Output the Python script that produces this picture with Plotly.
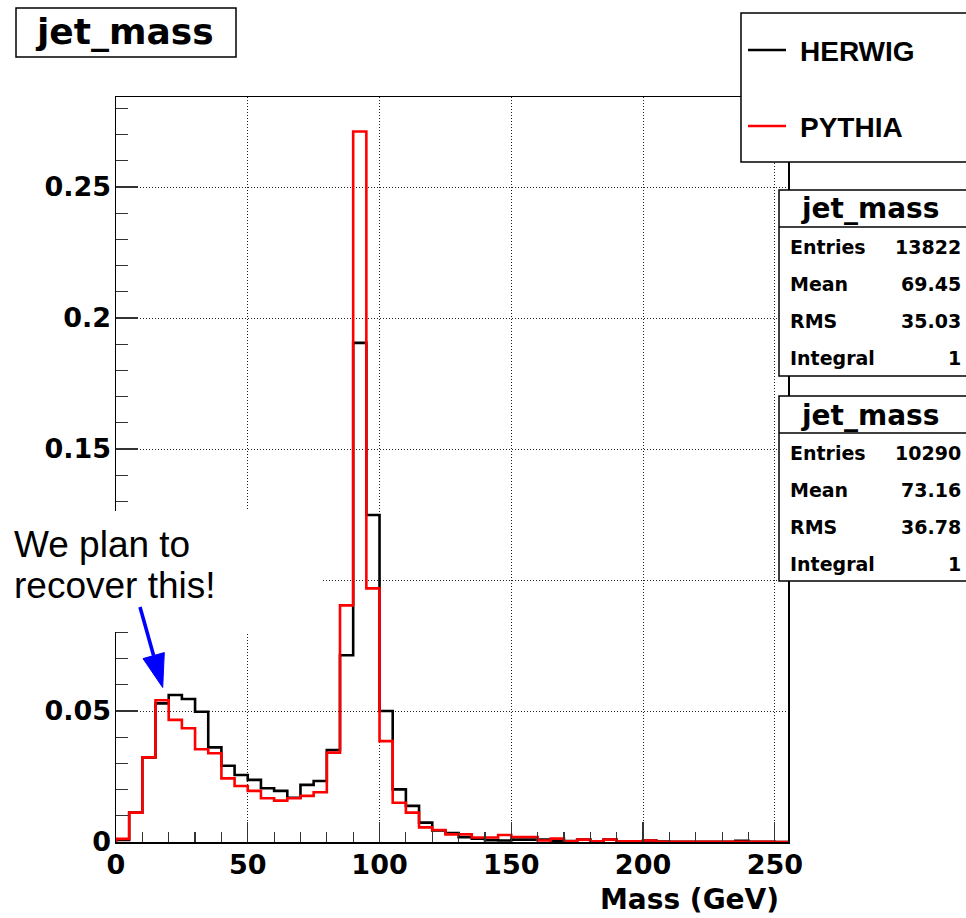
import plotly.graph_objects as go

# ---------------- data ----------------
bin_edges = list(range(0, 260, 5))          # 0 .. 255 GeV, 5 GeV bins
herwig = [0.0008, 0.0112, 0.0323, 0.0529, 0.0561, 0.0546, 0.0497, 0.0361, 0.0291, 0.0256,
          0.0237, 0.0205, 0.0195, 0.0169, 0.0218, 0.0233, 0.0351, 0.0713, 0.1905, 0.1248,
          0.0500, 0.0201, 0.0138, 0.0074, 0.0044, 0.0034, 0.0018, 0.0013, 0.0007, 0.0006,
          0.0009, 0.0009, 0.0009, 0.0005, 0.0004, 0.0009, 0.0003, 0.0009, 0.0003, 0.0003,
          0.0006, 0.0002, 0.0001, 0.0001, 0.0001, 0.0001, 0.0001, 0.0005, 0.0001, 0.0001,
          0.0000]
pythia = [0.0012, 0.0112, 0.0323, 0.0541, 0.0466, 0.0434, 0.0354, 0.0339, 0.0243, 0.0214,
          0.0195, 0.0167, 0.0158, 0.0167, 0.0176, 0.0190, 0.0341, 0.0903, 0.2712, 0.0968,
          0.0385, 0.0150, 0.0112, 0.0056, 0.0046, 0.0029, 0.0029, 0.0017, 0.0017, 0.0027,
          0.0019, 0.0019, 0.0006, 0.0013, 0.0003, 0.0009, 0.0003, 0.0009, 0.0003, 0.0003,
          0.0006, 0.0001, 0.0001, 0.0001, 0.0001, 0.0001, 0.0001, 0.0001, 0.0001, 0.0001,
          0.0000]
x_tick_vals = [0, 50, 100, 150, 200, 250]
y_tick_vals = [0, 0.05, 0.1, 0.15, 0.2, 0.25]
y_tick_text = ["0", "0.05", "", "0.15", "0.2", "0.25"]   # 0.1 label is hidden under the note box
series_names = ["HERWIG", "PYTHIA"]
stat_labels = ["Entries", "Mean", "RMS", "Integral"]
stats_box1 = ["13822", "69.45", "35.03", "1"]
stats_box2 = ["10290", "73.16", "36.78", "1"]
hist_name = "jet_mass"
x_title = "Mass (GeV)"
note_lines = ["We plan to", "recover this!"]

# ---------------- layout helpers (screen pixels -> paper) ----------------
W, H = 966, 918
L, R, T, B = 116, 788, 97, 842   # plot frame in pixels
ROOTFONT = "DejaVu Sans, Verdana, sans-serif"
ARIAL = "Liberation Sans, Arial, Helvetica, sans-serif"


def px(x):
    return (x - L) / (R - L)


def py(y):
    return (B - y) / (B - T)


def step_xy(edges, vals):
    xs = [edges[0]] + edges[:-1] + [edges[-1], edges[-1]]
    ys = [0] + vals + [vals[-1], 0]
    return xs, ys


fig = go.Figure()
for name, vals, col in [(series_names[0], herwig, "black"), (series_names[1], pythia, "#ff0000")]:
    xs, ys = step_xy(bin_edges, vals)
    fig.add_trace(go.Scatter(x=xs, y=ys, mode="lines", name=name,
                             line=dict(color=col, width=2.6, shape="hv"),
                             showlegend=False, hoverinfo="skip"))

shapes = []
annots = []


def rect(x0, y0, x1, y1, lw=1.5, fill="white", line="black"):
    shapes.append(dict(type="rect", xref="paper", yref="paper",
                       x0=px(x0), x1=px(x1), y0=py(y0), y1=py(y1),
                       line=dict(color=line, width=lw), fillcolor=fill, layer="above"))


def hline(x0, x1, y, color="black", w=1.5):
    shapes.append(dict(type="line", xref="paper", yref="paper",
                       x0=px(x0), x1=px(x1), y0=py(y), y1=py(y),
                       line=dict(color=color, width=w), layer="above"))


def text(s, x, y, size, xanchor="center", bold=True, color="black", family=ROOTFONT):
    annots.append(dict(text=s, xref="paper", yref="paper", x=px(x), y=py(y),
                       xanchor=xanchor, yanchor="middle", showarrow=False,
                       font=dict(family=family, size=size, color=color,
                                 weight="bold" if bold else "normal")))


# title box
rect(16, 8, 236, 57)
text(hist_name, 124, 31, 36)

# white box behind the note (covers axis part)
rect(-20, 511, 322, 632, lw=0)
text(note_lines[0], 12, 544, 37, xanchor="left", bold=False, family=ARIAL)
text(note_lines[1], 12, 585, 37, xanchor="left", bold=False, family=ARIAL)

# blue arrow
tail = (140, 607)
tip = (162.7, 687.5)
base_c = (153.6, 655.6)
shapes.append(dict(type="line", xref="paper", yref="paper",
                   x0=px(tail[0]), y0=py(tail[1]), x1=px(base_c[0]), y1=py(base_c[1]),
                   line=dict(color="#0000ff", width=3.6), layer="above"))
tri = [(143.0, 658.6), (164.3, 652.6), tip]
path = "M {} {} L {} {} L {} {} Z".format(px(tri[0][0]), py(tri[0][1]), px(tri[1][0]), py(tri[1][1]),
                                          px(tri[2][0]), py(tri[2][1]))
shapes.append(dict(type="path", xref="paper", yref="paper", path=path,
                   fillcolor="#0000ff", line=dict(color="#0000ff", width=1), layer="above"))

# legend box
rect(741, 13, 990, 162)
hline(748, 786, 50, "black", 2.6)
hline(748, 786, 126, "#ff0000", 2.6)
text(series_names[0], 798, 51, 28, xanchor="left", family=ARIAL)
text(series_names[1], 798, 127, 28, xanchor="left", family=ARIAL)

# stats boxes
for top, bottom, vals in [(190, 376, stats_box1), (396, 581, stats_box2)]:
    rect(779, top, 990, bottom)
    hline(779, 990, top + 37)
    text(hist_name, 870, top + 19, 28)
    for i, (lab, v) in enumerate(zip(stat_labels, vals)):
        yy = top + 57 + i * 37
        text(lab, 788, yy, 19, xanchor="left")
        text(v, 963, yy, 19, xanchor="right")

# x axis title
text(x_title, 781, 899, 28, xanchor="right")

axis_common = dict(showline=True, linecolor="black", linewidth=1.5, mirror=True,
                   ticks="inside", tickcolor="#333", tickwidth=1.2,
                   showgrid=True, gridcolor="#222", griddash="1px,2px", gridwidth=1,
                   zeroline=False,
                   tickfont=dict(family=ROOTFONT, size=27, color="black", weight="bold"))

fig.update_layout(
    width=W, height=H,
    margin=dict(l=L, r=W - R, t=T, b=H - B, autoexpand=False),
    paper_bgcolor="white", plot_bgcolor="white",
    xaxis=dict(range=[0, 255], tickvals=x_tick_vals, ticklen=20,
               ticklabelstandoff=-2,
               minor=dict(dtick=10, tick0=0, ticks="inside", ticklen=10, tickcolor="#333",
                          showgrid=False),
               **axis_common),
    yaxis=dict(range=[0, (B - T) / 2620], tickvals=y_tick_vals, ticktext=y_tick_text,
               ticklen=22, ticklabelstandoff=-2,
               minor=dict(dtick=0.01, tick0=0, ticks="inside", ticklen=12, tickcolor="#333",
                          showgrid=False),
               **axis_common),
    shapes=shapes,
    annotations=annots,
    showlegend=False,
)

page_js = ("document.documentElement.style.margin='0';document.body.style.margin='0';"
           "document.documentElement.style.overflow='hidden';document.body.style.overflow='hidden';")
fig.write_html("out.html", post_script=page_js,
               config={"displayModeBar": False, "staticPlot": True})
